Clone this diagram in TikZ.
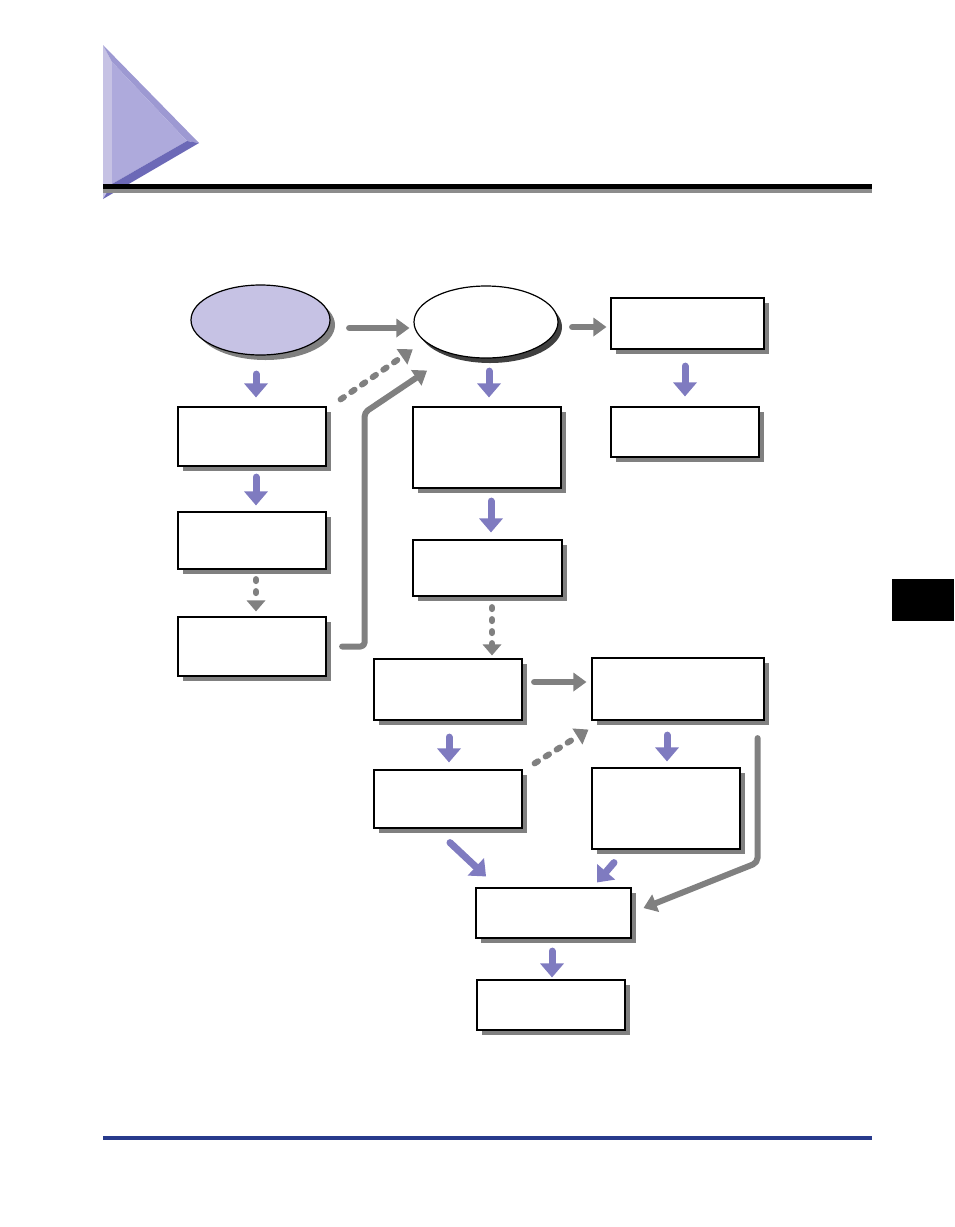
\documentclass[tikz,border=0pt]{standalone}
\usetikzlibrary{arrows.meta,shapes.geometric,shadows}
\definecolor{flowblue}{HTML}{7F7BC0}
\definecolor{flowgray}{HTML}{808080}
\definecolor{lavfill}{HTML}{C6C2E4}
\definecolor{darkshadow}{HTML}{404040}
\definecolor{rulegray}{HTML}{8C8C8C}
\definecolor{footblue}{HTML}{283A8C}
\definecolor{tribevel}{HTML}{9D99D2}
\definecolor{triface}{HTML}{AEAADC}
\definecolor{tridark}{HTML}{6C69B7}
\begin{document}
\begin{tikzpicture}[x=1pt,y=-1pt,
  box/.style={draw=black,fill=white,line width=1.2pt,rectangle,inner sep=0pt,
    drop shadow={shadow xshift=5pt,shadow yshift=-5pt,fill=flowgray,opacity=1}},
  oval/.style={draw=black,line width=1.2pt,ellipse,inner sep=0pt},
  barrow/.style={draw=flowblue,line width=7pt,line cap=round,
    -{Triangle[width=24pt,length=14pt,line width=0pt]}},
  garrow/.style={draw=flowgray,line width=6pt,line cap=round,line join=round,
    -{Triangle[width=19pt,length=13pt,line width=0pt]}},
  gdash/.style={garrow,dash pattern=on 4pt off 9pt},
  gdot/.style={garrow,dash pattern=on 2pt off 10pt,
    -{Triangle[width=19pt,length=11pt,line width=0pt]}}]
\useasboundingbox (0,0) rectangle (954,1227);
% header triangle
\fill[lavfill] (103,45) -- (112,62) -- (112,184) -- (103,199) -- cycle;
\fill[tribevel] (103,45) -- (199,143) -- (187,141) -- (112,62) -- cycle;
\fill[triface] (112,62) -- (187,141) -- (112,184) -- cycle;
\fill[tridark] (112,184) -- (187,141) -- (199,143) -- (103,199) -- cycle;
% header rule
\fill[black] (103,184) rectangle (872,189.3);
\fill[rulegray] (103,189.3) rectangle (872,192.5);
% side tab
\fill[black] (892,579) rectangle (954,621);
% footer rule
\fill[footblue] (103,1136) rectangle (872,1140);

% nodes
\node[oval,fill=lavfill,minimum width=139pt,minimum height=70pt,
  drop shadow={shadow xshift=5pt,shadow yshift=-5pt,fill=flowgray,opacity=1}] (e1) at (260.5,320) {};
\node[oval,fill=white,minimum width=144pt,minimum height=72pt,
  drop shadow={shadow xshift=4pt,shadow yshift=-5pt,fill=darkshadow,opacity=1}] (e2) at (486,322) {};
\node[box,minimum width=148pt,minimum height=59pt] (l1) at (252,436.5) {};
\node[box,minimum width=148pt,minimum height=57pt] (l2) at (252,540.5) {};
\node[box,minimum width=148pt,minimum height=59pt] (l3) at (252,646.5) {};
\node[box,minimum width=148pt,minimum height=81pt] (c1) at (487,447.5) {};
\node[box,minimum width=149pt,minimum height=56pt] (c2) at (487.5,568) {};
\node[box,minimum width=148pt,minimum height=61pt] (c3) at (448,689.5) {};
\node[box,minimum width=148pt,minimum height=58pt] (c4) at (448,799) {};
\node[box,minimum width=153pt,minimum height=51pt] (r1) at (687.5,323.5) {};
\node[box,minimum width=148pt,minimum height=50pt] (r2) at (685,432) {};
\node[box,minimum width=172pt,minimum height=62pt] (r3) at (678,689) {};
\node[box,minimum width=148pt,minimum height=81pt] (r4) at (666,808.5) {};
\node[box,minimum width=155pt,minimum height=50pt] (b1) at (553.5,913) {};
\node[box,minimum width=148pt,minimum height=50pt] (b2) at (551,1005) {};

% connectors
\draw[barrow,shorten <=18.5pt,shorten >=9pt] ([xshift=-4.5pt]e1.south) -- ([xshift=4pt]l1.north);
\draw[garrow,shorten <=18.5pt,shorten >=4pt] ([yshift=-8pt]e1.east) -- ([yshift=-6pt]e2.west);
\draw[gdash] ([xshift=14pt,yshift=7pt]l1.north east) -- ([xshift=-22pt,yshift=-1.5pt]e2.south west);
\draw[garrow,rounded corners=4pt] ([xshift=15.5pt]l3.east) -- ++(22.5,0) -- ++(0,-234) -- ([xshift=-59pt,yshift=-12pt]e2.south);
\draw[barrow,shorten <=12.5pt,shorten >=9pt] ([xshift=3pt]e2.south) -- ([xshift=2pt]c1.north);
\draw[garrow,shorten <=13.5pt,shorten >=4pt] ([yshift=-5pt]e2.east) -- ([yshift=-3.5pt]r1.west);
\draw[barrow,shorten <=16.5pt,shorten >=10pt] ([xshift=-2.5pt]r1.south) -- (r2.north);
\draw[barrow,shorten <=10.5pt,shorten >=6pt] ([xshift=4pt]l1.south) -- ([xshift=4pt]l2.north);
\draw[gdot,shorten <=9.5pt,shorten >=5pt] ([xshift=4pt]l2.south) -- ([xshift=4pt]l3.north);
\draw[barrow,shorten <=12.5pt,shorten >=7pt] ([xshift=4pt]c1.south) -- ([xshift=3.5pt]c2.north);
\draw[gdot,shorten <=10.5pt,shorten >=3pt] ([xshift=4.5pt]c2.south) -- ([xshift=44pt]c3.north);
\draw[garrow,shorten <=11.5pt,shorten >=5pt] ([yshift=7.5pt]c3.east) -- ([yshift=7pt]r3.west);
\draw[barrow,shorten <=16.5pt,shorten >=7pt] ([xshift=1pt]c3.south) -- ([xshift=1pt]c4.north);
\draw[gdash] ([xshift=12pt,yshift=6pt]c4.north east) -- ([xshift=-3pt,yshift=-9pt]r3.south west);
\draw[barrow,shorten <=14.5pt,shorten >=6pt] ([xshift=-11pt]r3.south) -- ([xshift=1pt]r4.north);
\draw[barrow] ([xshift=2pt,yshift=-14pt]c4.south) -- ([xshift=-67.5pt,yshift=11pt]b1.north);
\draw[barrow] ([xshift=-52pt,yshift=-13pt]r4.south) -- ([xshift=43.5pt,yshift=5pt]b1.north);
\draw[garrow,rounded corners=5pt] ([xshift=-7pt,yshift=-17.5pt]r3.south east) -- ++(0,124.5) -- ([xshift=12pt,yshift=5pt]b1.east);
\draw[barrow,shorten <=12.5pt,shorten >=2pt] ([xshift=-1.5pt]b1.south) -- ([xshift=1pt]b2.north);
\end{tikzpicture}
\end{document}
